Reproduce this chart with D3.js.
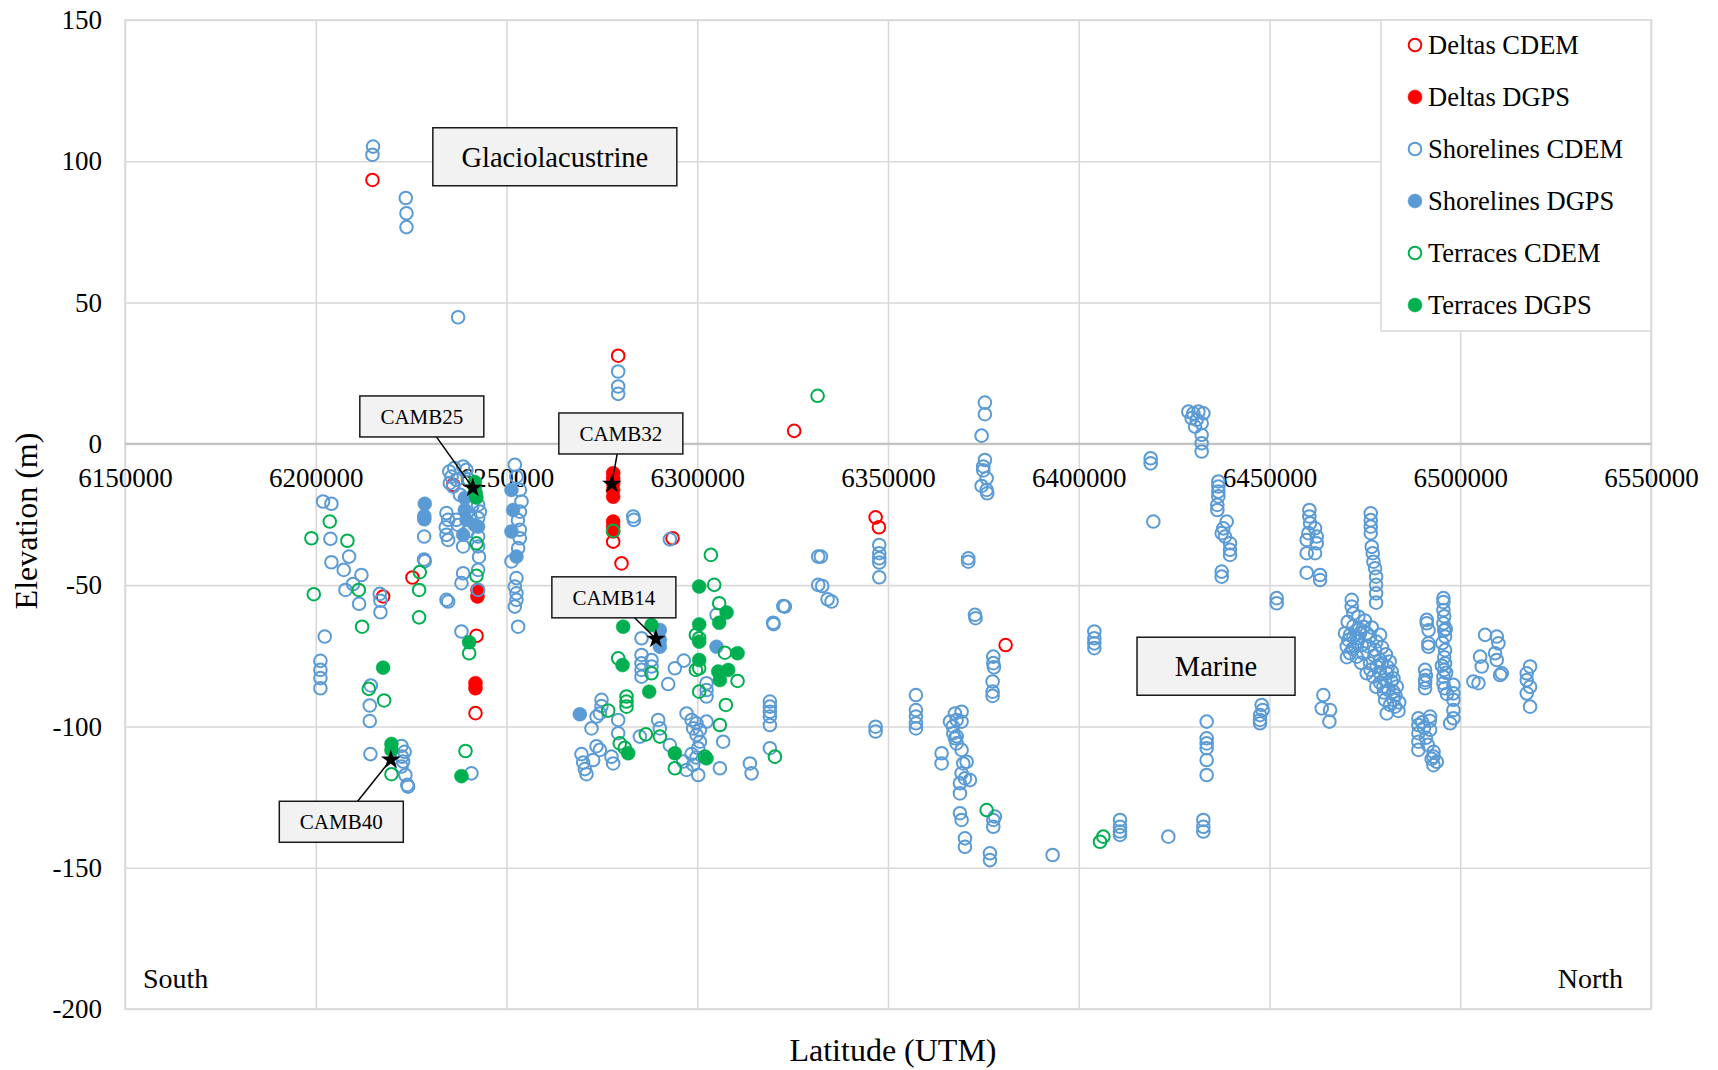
<!DOCTYPE html>
<html>
<head>
<meta charset="utf-8">
<script src="https://cdn.jsdelivr.net/npm/d3@7"></script>
<style>
  body { margin: 0; background: #fff; }
  svg { display: block; font-family: "Liberation Serif", "Times New Roman", serif; }
</style>
</head>
<body>
<svg id="chart" width="1718" height="1070"></svg>
<script>
// ---- axis ticks ----
const xTicks = [6150000, 6200000, 6250000, 6300000, 6350000, 6400000, 6450000, 6500000, 6550000];
const yTicks = [150, 100, 50, 0, -50, -100, -150, -200];

// ---- series: [latitude (UTM northing), elevation (m)] ----
const deltasCDEM = [
  [6214870, 93.4], [6279270, 31.2], [6325400, 4.6], [6236000, -14.5], [6225350, -47.3],
  [6217650, -54.0], [6242130, -67.9], [6241870, -95.3], [6277960, -34.6], [6280150, -42.3],
  [6293520, -33.4], [6346750, -26.0], [6347620, -29.5], [6380830, -71.2]
];
const deltasDGPS = [
  [6242390, -51.7], [6242390, -54.0], [6241870, -84.7], [6241870, -86.5],
  [6277960, -10.4], [6277960, -12.2], [6277960, -13.9], [6277960, -16.3], [6277960, -18.7],
  [6277960, -27.5], [6277960, -29.3], [6277960, -31.0]
];
const shorelinesCDEM = [
  // glaciolacustrine highs
  [6215020, 105.2], [6214870, 102.3], [6223600, 87.0], [6223780, 81.6], [6223780, 76.7],
  [6237310, 44.8], [6279270, 25.6], [6279270, 20.3], [6279270, 17.7],
  // 6200000 - 6225000
  [6201920, -20.4], [6204110, -21.2], [6203850, -33.6], [6204110, -41.9], [6207340, -44.6],
  [6208740, -39.9], [6211970, -46.4], [6209790, -49.6], [6207780, -51.7], [6211360, -56.6],
  [6216780, -53.1], [6216960, -55.5], [6216960, -59.6], [6202360, -68.2], [6201220, -76.8],
  [6201220, -80.0], [6201220, -82.9], [6201220, -86.5], [6214420, -85.5], [6214160, -92.6],
  [6214160, -98.1], [6214330, -109.8], [6222460, -106.9], [6222600, -110.7], [6222900, -112.4],
  [6222460, -114.2], [6223500, -117.2], [6224000, -120.7], [6224200, -121.3], [6223300, -109.0],
  // 6225000 - 6245000
  [6228410, -32.8], [6228410, -40.9], [6228580, -41.5], [6234260, -55.2], [6234700, -55.8],
  [6235000, -9.8], [6236310, -8.6], [6238630, -8.0], [6239500, -9.2], [6235600, -11.6],
  [6236880, -12.7], [6235130, -13.9], [6236010, -15.1], [6242560, -21.6], [6242560, -26.3],
  [6234260, -24.5], [6234700, -26.9], [6234080, -29.5], [6234260, -32.2], [6234700, -34.0],
  [6236880, -26.9], [6237320, -28.7], [6238630, -36.3], [6242560, -32.8], [6242560, -36.3],
  [6242560, -44.6], [6242560, -51.7], [6238630, -45.8], [6238190, -49.3], [6238190, -66.4],
  [6240810, -116.6], [6240000, -12.5], [6241000, -22.0], [6240500, -25.5], [6237800, -18.0],
  [6239800, -31.0], [6243000, -24.0], [6242800, -40.0],
  // 6252000 column
  [6252180, -7.4], [6252610, -11.6], [6253490, -16.3], [6253930, -20.4], [6253490, -24.0],
  [6253490, -30.4], [6253490, -33.4], [6253050, -36.9], [6251300, -41.6], [6252610, -47.5],
  [6252180, -50.5], [6252610, -52.9], [6252610, -55.2], [6252180, -57.6], [6253050, -64.7],
  [6253000, -27.0],
  // 6270000 - 6335000
  [6283210, -25.7], [6283380, -26.9], [6292820, -33.8], [6305060, -60.5], [6322540, -57.4],
  [6319910, -63.3], [6320000, -63.8], [6285390, -68.8], [6285390, -74.7], [6285390, -77.7],
  [6285390, -80.0], [6285390, -82.4], [6288010, -76.5], [6288010, -78.8], [6296490, -76.7],
  [6294130, -79.4], [6302430, -84.7], [6302430, -87.1], [6302430, -89.4], [6292380, -85.0],
  [6274900, -90.6], [6274900, -92.8], [6273600, -96.5], [6274470, -95.4], [6279270, -97.7],
  [6297190, -95.4], [6298500, -97.7], [6299800, -98.9], [6302430, -98.3], [6298940, -100.7],
  [6300690, -101.3], [6299820, -103.0], [6300690, -105.4], [6300250, -107.7], [6319040, -91.2],
  [6319040, -93.0], [6319040, -94.8], [6319040, -96.5], [6319040, -99.5], [6289760, -97.7],
  [6290200, -100.7], [6272280, -100.7], [6279270, -102.4], [6284950, -103.6], [6306800, -105.4],
  [6292820, -106.6], [6269660, -109.8], [6270100, -112.8], [6270530, -115.1], [6270970, -116.9],
  [6273590, -107.0], [6274470, -108.3], [6272720, -111.9], [6277520, -110.7], [6277960, -113.1],
  [6296330, -112.4], [6297190, -115.4], [6298940, -113.6], [6300250, -117.2], [6299800, -111.0],
  [6298500, -109.8], [6305930, -114.8], [6313800, -113.1], [6314240, -116.6], [6319040, -107.7],
  [6331700, -39.9], [6331700, -49.9],
  // 6330000 - 6380000
  [6332410, -39.9], [6332760, -50.3], [6334160, -55.0], [6335210, -55.8], [6322970, -57.6],
  [6347710, -35.8], [6347710, -38.7], [6347710, -40.5], [6347710, -42.0], [6347710, -47.2],
  [6375400, 14.6], [6375400, 10.5], [6374540, 2.9], [6375400, -5.7], [6374970, -8.0],
  [6374970, -9.4], [6375850, -12.2], [6374540, -14.9], [6375850, -16.3], [6376020, -17.5],
  [6371040, -40.5], [6371040, -41.7], [6372790, -60.5], [6372960, -61.7],
  [6377600, -75.3], [6377600, -77.6], [6377770, -79.1], [6377420, -84.1], [6377420, -87.7],
  [6377420, -89.2], [6357320, -88.9], [6357320, -94.2], [6357320, -96.5], [6357320, -98.9],
  [6357320, -100.7], [6346750, -100.1], [6346750, -101.8],
  [6367550, -95.4], [6369290, -94.8], [6367980, -97.7], [6369290, -98.3], [6366240, -98.3],
  [6367110, -102.4], [6367550, -104.2], [6367980, -106.0], [6369290, -108.3], [6369730, -113.1],
  [6370610, -112.5], [6369290, -116.6], [6370170, -118.4], [6371480, -119.0], [6368860, -120.1],
  [6368860, -123.7], [6368860, -130.7], [6369290, -133.1], [6370170, -139.6], [6370170, -142.6],
  [6376720, -144.9], [6376720, -147.3], [6377600, -133.1], [6377600, -135.5], [6378030, -131.9],
  [6364050, -109.5], [6364050, -113.1], [6367000, -100.0], [6368000, -103.5],
  // 6390000 - 6435000
  [6428730, 11.4], [6430040, 10.8], [6431350, 11.4], [6432660, 10.8], [6429600, 9.1],
  [6430900, 8.5], [6432220, 7.3], [6430480, 6.1], [6432220, 3.2], [6432220, 0.2],
  [6432220, -2.7], [6418850, -5.1], [6418850, -6.9], [6419550, -27.5],
  [6404080, -66.4], [6404080, -68.8], [6404080, -70.6], [6404080, -72.3],
  [6410810, -133.1], [6410810, -135.5], [6410810, -137.2], [6410810, -138.4],
  [6423480, -139.0], [6393150, -145.5],
  [6433530, -98.3], [6433530, -104.2], [6433530, -106.0], [6433530, -107.7], [6433530, -111.9],
  [6433530, -117.2], [6432660, -133.1], [6432660, -135.5], [6432660, -137.2],
  // 6435000 - 6480000
  [6436590, -13.3], [6436590, -15.1], [6436590, -16.9], [6436590, -18.6], [6436330, -21.6],
  [6436330, -23.4], [6438780, -27.5], [6437900, -29.9], [6437470, -31.6], [6438340, -32.8],
  [6439650, -35.2], [6439650, -37.5], [6439650, -39.3], [6437470, -45.2], [6437470, -47.0],
  [6451890, -54.6], [6451890, -56.4],
  [6447950, -92.4], [6448220, -94.2], [6447520, -96.0], [6447520, -97.7], [6447520, -98.9],
  [6460450, -23.4], [6460450, -25.7], [6460630, -28.1], [6460190, -31.6], [6459750, -34.0],
  [6459750, -38.7], [6461940, -29.9], [6462380, -32.8], [6462380, -35.2], [6461940, -38.7],
  [6459750, -45.6], [6463250, -46.4], [6463250, -48.2],
  [6464120, -88.9], [6463690, -93.6], [6465870, -94.2], [6465700, -98.3],
  [6476540, -24.6], [6476540, -27.0], [6476540, -29.3], [6476540, -31.6], [6476800, -36.4],
  [6477060, -38.7], [6477240, -41.7], [6477670, -44.0], [6477940, -47.0], [6477940, -49.9],
  [6477940, -52.9], [6477940, -56.2],
  // dense cluster 6469000 - 6484000
  [6471550, -55.2], [6471550, -57.6], [6471990, -60.0], [6473300, -61.1], [6471110, -67.6],
  [6471990, -68.2], [6472860, -68.8], [6473740, -67.0], [6474610, -64.7], [6475480, -67.0],
  [6476360, -68.2], [6478980, -67.6], [6471110, -74.1], [6472860, -75.3], [6474610, -74.1],
  [6476360, -77.7], [6478110, -78.8], [6479420, -77.7], [6472430, -71.7], [6474170, -71.2],
  [6475920, -71.7], [6477670, -72.9], [6475480, -81.2], [6477230, -82.4], [6478980, -81.2],
  [6480730, -81.2], [6482040, -80.6], [6479850, -85.9], [6481170, -87.1], [6482480, -87.7],
  [6483350, -85.9], [6480290, -90.6], [6481600, -92.4], [6482910, -93.0], [6480730, -95.4],
  [6482480, -90.6], [6478980, -76.5], [6480290, -83.6], [6470680, -69.4], [6470240, -71.7],
  [6469800, -67.0], [6470500, -63.0], [6472000, -64.5], [6473500, -65.5], [6475000, -62.5],
  [6476800, -65.0], [6478000, -70.0], [6479500, -72.0], [6480500, -74.5], [6481500, -77.0],
  [6482500, -83.0], [6483000, -89.0], [6484000, -91.5], [6483800, -94.5], [6479000, -84.5],
  [6478000, -86.0], [6476500, -80.0], [6474000, -77.5], [6473000, -70.0], [6471800, -72.5],
  [6470300, -75.5], [6477500, -75.0], [6481000, -79.0], [6482000, -84.0], [6480000, -88.0],
  // 6488000 - 6520000
  [6491220, -62.3], [6491220, -63.5], [6491650, -70.6], [6491650, -71.8], [6490780, -80.0],
  [6490780, -83.6], [6490780, -86.5], [6490780, -84.5], [6491700, -66.0], [6491000, -82.0],
  [6495590, -54.6], [6495590, -56.0], [6495590, -58.8], [6495590, -63.5], [6496020, -68.2],
  [6496020, -73.0], [6496020, -77.7], [6495590, -82.4], [6495590, -84.7], [6495800, -66.0],
  [6495800, -61.0], [6495800, -75.5], [6495800, -80.0], [6495300, -70.5], [6496200, -65.5],
  [6495200, -78.5], [6496300, -81.0], [6495900, -86.5], [6496500, -88.5],
  [6498210, -85.3], [6498210, -88.3], [6498210, -90.6], [6498210, -94.2], [6498210, -97.1],
  [6497340, -98.9], [6489030, -97.1], [6489030, -99.5], [6489030, -102.4], [6489030, -105.4],
  [6489030, -108.3], [6492090, -96.5], [6492090, -101.2], [6490500, -100.5], [6490000, -98.5],
  [6491000, -104.0], [6491500, -106.5], [6493000, -109.0], [6492000, -98.0],
  [6492960, -110.7], [6493840, -112.5], [6492960, -113.7], [6492500, -111.5],
  [6506510, -67.6], [6509570, -68.2], [6510000, -70.6], [6505200, -75.3], [6505640, -78.8],
  [6503460, -84.1], [6504770, -84.7], [6509130, -74.1], [6509570, -76.5], [6510440, -81.8],
  [6510880, -81.2], [6518300, -78.8], [6517430, -81.2], [6517430, -83.6], [6518300, -86.0],
  [6517430, -88.3], [6518300, -93.0]
];
const shorelinesDGPS = [
  [6228580, -21.2], [6228450, -25.5], [6228450, -26.7], [6239070, -19.2], [6239070, -23.4],
  [6239500, -26.9], [6238630, -32.2], [6242560, -29.3], [6241700, -28.7], [6251300, -16.3],
  [6251740, -23.4], [6251300, -31.0], [6252610, -39.9], [6290200, -65.9], [6290200, -69.4],
  [6290200, -71.8], [6305050, -71.8], [6269220, -95.7]
];
const terracesCDEM = [
  [6203670, -27.5], [6198860, -33.4], [6208300, -34.3], [6199480, -53.2], [6211280, -51.7],
  [6212150, -64.7], [6227270, -45.4], [6227090, -51.7], [6227090, -61.4], [6242130, -35.2],
  [6242130, -46.7], [6213900, -86.7], [6217920, -90.8], [6240210, -74.1], [6239250, -108.7],
  [6219840, -116.9], [6331540, 17.0], [6277960, -30.8], [6303570, -39.3], [6304440, -49.9],
  [6305750, -56.4], [6299640, -67.6], [6300500, -68.8], [6307240, -73.9], [6279270, -75.9],
  [6288010, -81.2], [6300510, -79.4], [6299640, -80.0], [6310560, -83.9], [6300510, -87.7],
  [6307500, -92.4], [6281460, -89.4], [6281460, -91.2], [6281460, -93.0], [6276650, -94.4],
  [6305930, -99.5], [6286530, -102.8], [6290200, -103.6], [6279700, -106.0], [6281000, -107.6],
  [6302000, -110.7], [6320350, -110.7], [6294130, -114.8], [6375850, -129.6], [6405570, -140.8],
  [6406440, -139.0]
];
const terracesDGPS = [
  [6241700, -13.5], [6241700, -15.5], [6241900, -17.5], [6242100, -19.0], [6240210, -70.2],
  [6217660, -79.2], [6219840, -106.2], [6219840, -108.3], [6238190, -117.6], [6300510, -50.5],
  [6307680, -59.7], [6305750, -63.3], [6300510, -63.9], [6280580, -64.7], [6288010, -64.1],
  [6300510, -70.0], [6310560, -74.1], [6280410, -78.3], [6300510, -76.5], [6305490, -80.6],
  [6305930, -83.6], [6308110, -80.0], [6287400, -87.7], [6281900, -109.5], [6294130, -109.5],
  [6302430, -111.3]
];

// ---- dated sample sites ----
const siteNames = ["CAMB25", "CAMB32", "CAMB14", "CAMB40"];
const siteLat   = [6241170, 6277610, 6289150, 6219670];
const siteElev  = [-15.6, -14.2, -69.0, -111.8];

// ---- region notes ----
const noteNames = ["Glaciolacustrine", "Marine"];
const noteLat   = [6262670, 6435980];
const noteElev  = [101.6, -78.7];

// ---------------- drawing ----------------
const plot = { left: 125, right: 1651, top: 20, bottom: 1009 };
const svg = d3.select("#chart");
const gridColor = "#d9d9d9";
const plainNumber = d => String(d);   // hyphen-minus, no grouping

const x = d3.scaleLinear().domain([6150000, 6550000]).range([plot.left, plot.right]);
const y = d3.scaleLinear().domain([-200, 150]).range([plot.bottom, plot.top]);

// gridlines
const gx = svg.append("g")
  .attr("transform", `translate(0,${plot.bottom})`)
  .call(d3.axisBottom(x).tickValues(xTicks).tickSize(-(plot.bottom - plot.top)).tickFormat(""));
const gy = svg.append("g")
  .attr("transform", `translate(${plot.left},0)`)
  .call(d3.axisLeft(y).tickValues(yTicks).tickSize(-(plot.right - plot.left)).tickFormat(""));
[gx, gy].forEach(g => {
  g.select(".domain").remove();
  g.selectAll("line").attr("stroke", gridColor).attr("stroke-width", 1.6);
});

// plot frame
svg.append("rect")
  .attr("x", plot.left).attr("y", plot.top)
  .attr("width", plot.right - plot.left).attr("height", plot.bottom - plot.top)
  .attr("fill", "none").attr("stroke", gridColor).attr("stroke-width", 1.6);

// horizontal axis crossing at zero
svg.append("line")
  .attr("x1", plot.left).attr("x2", plot.right)
  .attr("y1", y(0)).attr("y2", y(0))
  .attr("stroke", "#bfbfbf").attr("stroke-width", 2);

// tick labels
const xAxis = svg.append("g")
  .attr("transform", `translate(0,${y(0)})`)
  .call(d3.axisBottom(x).tickValues(xTicks).tickSize(0).tickPadding(24).tickFormat(plainNumber));
xAxis.select(".domain").remove();
xAxis.selectAll("text").attr("font-size", 27).attr("font-family", "Liberation Serif").attr("fill", "#000");

const yAxis = svg.append("g")
  .attr("transform", `translate(${plot.left},0)`)
  .call(d3.axisLeft(y).tickValues(yTicks).tickSize(0).tickPadding(23).tickFormat(plainNumber));
yAxis.select(".domain").remove();
yAxis.selectAll("text").attr("font-size", 27).attr("font-family", "Liberation Serif").attr("fill", "#000");

// axis titles
svg.append("text")
  .attr("x", 893).attr("y", 1061)
  .attr("text-anchor", "middle").attr("font-size", 32).text("Latitude (UTM)");
svg.append("text")
  .attr("transform", "translate(37,521) rotate(-90)")
  .attr("text-anchor", "middle").attr("font-size", 32).text("Elevation (m)");

// direction hints
svg.append("text").attr("x", 143).attr("y", 988).attr("font-size", 28).text("South");
svg.append("text").attr("x", 1623).attr("y", 988).attr("text-anchor", "end").attr("font-size", 28).text("North");

// region notes
const noteBoxW = [244, 158];
const noteLayer = svg.append("g");
noteNames.forEach((name, i) => {
  const cx = x(noteLat[i]), cy = y(noteElev[i]);
  const w = noteBoxW[i], h = 58;
  noteLayer.append("rect")
    .attr("x", cx - w / 2).attr("y", cy - h / 2).attr("width", w).attr("height", h)
    .attr("fill", "#f2f2f2").attr("stroke", "#1a1a1a").attr("stroke-width", 1.5);
  noteLayer.append("text")
    .attr("x", cx).attr("y", cy).attr("dy", "0.35em")
    .attr("text-anchor", "middle").attr("font-size", 28.5).text(name);
});

// series
const series = [
  { name: "Deltas CDEM",      data: deltasCDEM,     color: "#FF0000", filled: false },
  { name: "Deltas DGPS",      data: deltasDGPS,     color: "#FF0000", filled: true  },
  { name: "Shorelines CDEM",  data: shorelinesCDEM, color: "#5B9BD5", filled: false },
  { name: "Shorelines DGPS",  data: shorelinesDGPS, color: "#5B9BD5", filled: true  },
  { name: "Terraces CDEM",    data: terracesCDEM,   color: "#00B050", filled: false },
  { name: "Terraces DGPS",    data: terracesDGPS,   color: "#00B050", filled: true  }
];

function styleMarker(sel, s) {
  if (s.filled) {
    sel.attr("r", 7).attr("fill", s.color).attr("stroke", s.color).attr("stroke-width", 0.5);
  } else {
    sel.attr("r", 6.3).attr("fill", "none").attr("stroke", s.color).attr("stroke-width", 2);
  }
}

series.forEach(s => {
  svg.append("g").selectAll("circle").data(s.data).join("circle")
    .attr("cx", d => x(d[0])).attr("cy", d => y(d[1]))
    .call(sel => styleMarker(sel, s));
});

// sample-site callouts
const boxOffset = [[-51, -71.5], [9, -50.5], [-42, -41.5], [-49.5, 62]];
const siteLayer = svg.append("g");
siteNames.forEach((name, i) => {
  const sx = x(siteLat[i]), sy = y(siteElev[i]);
  const bx = sx + boxOffset[i][0], by = sy + boxOffset[i][1];
  const bw = 124, bh = 41;
  siteLayer.append("line")
    .attr("x1", bx).attr("y1", by).attr("x2", sx).attr("y2", sy)
    .attr("stroke", "#000").attr("stroke-width", 1.5);
  siteLayer.append("rect")
    .attr("x", bx - bw / 2).attr("y", by - bh / 2).attr("width", bw).attr("height", bh)
    .attr("fill", "#f2f2f2").attr("stroke", "#1a1a1a").attr("stroke-width", 1.5);
  siteLayer.append("text")
    .attr("x", bx).attr("y", by).attr("dy", "0.35em")
    .attr("text-anchor", "middle").attr("font-size", 21).text(name);
});
svg.append("g").selectAll("path")
  .data(siteNames.map((n, i) => [siteLat[i], siteElev[i]]))
  .join("path")
  .attr("transform", d => `translate(${x(d[0])},${y(d[1])})`)
  .attr("d", d3.symbol(d3.symbolStar, 120))
  .attr("fill", "#000");

// legend
const legend = svg.append("g");
legend.append("rect")
  .attr("x", 1381).attr("y", plot.top).attr("width", plot.right - 1381).attr("height", 311)
  .attr("fill", "#fff").attr("stroke", gridColor).attr("stroke-width", 1.6);
series.forEach((s, i) => {
  const ry = 45 + i * 52;
  legend.append("circle").attr("cx", 1415).attr("cy", ry).call(sel => styleMarker(sel, s));
  legend.append("text").attr("x", 1428).attr("y", ry).attr("dy", "0.35em")
    .attr("font-size", 26.5).text(s.name);
});
</script>
</body>
</html>
